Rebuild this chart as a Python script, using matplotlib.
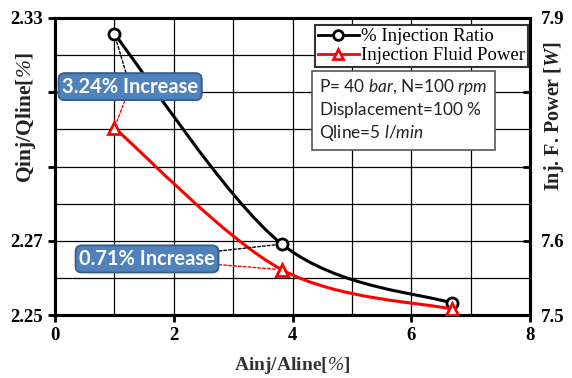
import matplotlib
matplotlib.use("Agg")
import matplotlib.pyplot as plt
from matplotlib.path import Path
from matplotlib.patches import PathPatch
from matplotlib.lines import Line2D
from matplotlib.ticker import MultipleLocator

# ---- data ----
area_ratio = [1.0, 3.82, 6.68]
injection_ratio = [2.3257, 2.2691, 2.2532]
fluid_power = [7.752, 7.561, 7.508]

left_ticks = [2.25, 2.27, 2.29, 2.31, 2.33]
left_labels = ["2.25", "2.27", "", "", "2.33"]
right_ticks = [7.5, 7.6, 7.7, 7.8, 7.9]
right_labels = ["7.5", "7.6", "", "", "7.9"]
x_ticks = [0, 2, 4, 6, 8]

callout_texts = ["3.24% Increase", "0.71% Increase"]

plt.rcParams["mathtext.fontset"] = "custom"
plt.rcParams["mathtext.rm"] = "Lato"
plt.rcParams["mathtext.it"] = "Lato:italic"
plt.rcParams["mathtext.cal"] = "Liberation Serif:italic"
plt.rcParams["mathtext.sf"] = "Liberation Serif:italic:bold"

SERIF = ["Liberation Serif", "DejaVu Serif"]

fig = plt.figure(figsize=(5.72, 3.78), dpi=100)
ax = fig.add_axes([55 / 572, 1 - 315 / 378, 475 / 572, 297 / 378])
ax2 = ax.twinx()


def smooth_path(xs, ys):
    pts = list(zip(xs, ys))
    n = len(pts)
    verts = [pts[0]]
    codes = [Path.MOVETO]
    for i in range(n - 1):
        p0 = pts[i - 1] if i > 0 else pts[i]
        p1 = pts[i]
        p2 = pts[i + 1]
        p3 = pts[i + 2] if i + 2 < n else pts[i + 1]
        c1 = (p1[0] + (p2[0] - p0[0]) / 6, p1[1] + (p2[1] - p0[1]) / 6)
        c2 = (p2[0] - (p3[0] - p1[0]) / 6, p2[1] - (p3[1] - p1[1]) / 6)
        verts += [c1, c2, p2]
        codes += [Path.CURVE4] * 3
    return Path(verts, codes)


ax.set_xlim(0, 8)
ax.set_ylim(2.25, 2.33)
ax2.set_ylim(7.5, 7.9)

ax.add_patch(PathPatch(smooth_path(area_ratio, injection_ratio), fill=False,
                       edgecolor="black", lw=2.2, zorder=3))
ax.plot(area_ratio, injection_ratio, ls="none", marker="o", ms=8, mfc="white",
        mec="black", mew=2, zorder=4)
ax2.add_patch(PathPatch(smooth_path(area_ratio, fluid_power), fill=False,
                        edgecolor="red", lw=2.2, zorder=3))
ax2.plot(area_ratio, fluid_power, ls="none", marker="^", ms=8, mfc="white",
         mec="red", mew=2, zorder=4)

# grid
ax.xaxis.set_minor_locator(MultipleLocator(1))
ax.yaxis.set_minor_locator(MultipleLocator(0.01))
ax.grid(True, which="both", color="black", lw=0.9)
ax.set_axisbelow(True)

ax.set_xticks(x_ticks)
ax.set_yticks(left_ticks)
ax.set_yticklabels(left_labels)
ax2.set_yticks(right_ticks)
ax2.set_yticklabels(right_labels)

for a in (ax, ax2):
    for s in a.spines.values():
        s.set_linewidth(2.2)
ax.tick_params(which="major", length=5, width=2, direction="out")
ax.tick_params(which="minor", length=0)
ax2.tick_params(axis="y", length=5, width=2, direction="in", pad=8)
for lab in ax.get_xticklabels() + ax.get_yticklabels() + ax2.get_yticklabels():
    lab.set_fontfamily(SERIF)
    lab.set_fontweight("bold")
    lab.set_fontsize(13.5)

ax.set_xlabel("Ainj/Aline[$\\mathcal{\\%}$]", fontfamily=SERIF, fontsize=14,
              fontweight="bold", color="#333333")
ax.xaxis.set_label_coords(0.5, -0.135)
ax.set_ylabel("Qinj/Qline[$\\mathcal{\\%}$]", fontfamily=SERIF, fontsize=15.5,
              fontweight="bold", color="#222222")
ax.yaxis.set_label_coords(-0.035, 0.665)
ax2.set_ylabel("Inj. F. Power [$\\mathsf{W}$]", fontfamily=SERIF, fontsize=14.5,
               fontweight="bold", color="#222222")
ax2.yaxis.set_label_coords(1.025, 0.67)

# legend
handles = [
    Line2D([], [], color="black", lw=2, marker="o", ms=7, mfc="white", mec="black", mew=2),
    Line2D([], [], color="red", lw=2, marker="^", ms=7, mfc="white", mec="red", mew=2),
]
leg = ax2.legend(handles, ["% Injection Ratio", "Injection Fluid Power"],
                 loc="upper right", bbox_to_anchor=(0.995, 0.975),
                 prop={"family": SERIF, "size": 13.5}, frameon=True, fancybox=False,
                 edgecolor="#333333", framealpha=1, labelspacing=0.1,
                 handlelength=2.2, handletextpad=0.1, borderpad=0.15,
                 borderaxespad=0)
leg.get_frame().set_linewidth(1.5)
leg.set_zorder(10)

# info box
info = "P= 40 $\\it{bar}$, N=100 $\\it{rpm}$\nDisplacement=100 $\\it{\\%}$\nQline=5 $\\it{l/min}$"
ax2.text(0.5557, 0.80, info, transform=ax.transAxes, ha="left", va="top",
         fontfamily="Lato", fontsize=12.4, linespacing=1.18, zorder=10, color="#222222",
         bbox=dict(boxstyle="square,pad=0.4", fc="white", ec="#555555", lw=1.2))

# callouts
box_style = dict(boxstyle="round,pad=0.17,rounding_size=0.3", fc="#4F81BD",
                 ec="#385D8A", lw=1.2)
box_pos = [(1.265, 2.3115), (1.55, 2.2651)]
for (bx, by), txt, i in zip(box_pos, callout_texts, range(2)):
    ax2.annotate(txt, xy=(area_ratio[i], injection_ratio[i]), xycoords=ax.transData,
                 xytext=(bx, by), textcoords=ax.transData, ha="center", va="center",
                 color="white", fontfamily="Lato", fontweight="bold", fontsize=14.5,
                 bbox=box_style, zorder=12,
                 arrowprops=dict(arrowstyle="-", ls=(0, (2, 1.5)), color="black",
                                 lw=1, shrinkA=0, shrinkB=4))
    ax2.annotate(txt, xy=(area_ratio[i], fluid_power[i]), xycoords="data",
                 xytext=(bx, by), textcoords=ax.transData, ha="center", va="center",
                 color="white", fontfamily="Lato", fontweight="bold", fontsize=14.5,
                 bbox=box_style, zorder=12,
                 arrowprops=dict(arrowstyle="-", ls=(0, (2, 1.5)), color="red",
                                 lw=1, shrinkA=0, shrinkB=4))

fig.savefig("out.png", dpi=100)
